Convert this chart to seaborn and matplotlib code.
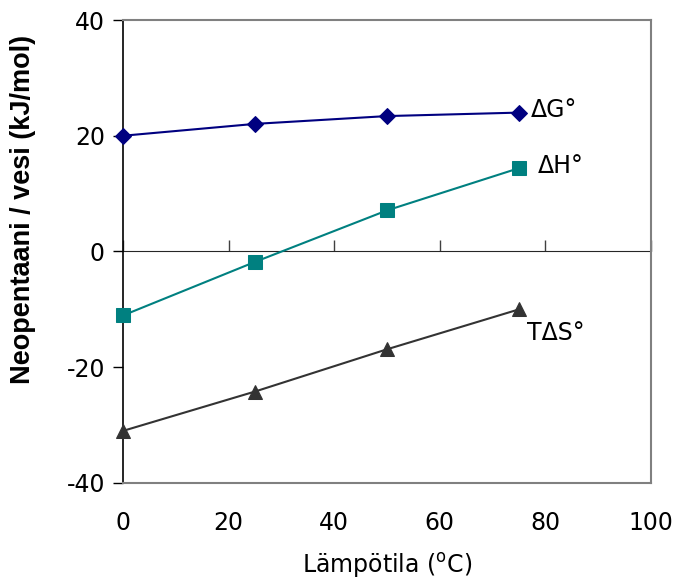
import matplotlib
matplotlib.use("Agg")
import matplotlib.pyplot as plt
import seaborn as sns
import pandas as pd

# Temperature (°C) and thermodynamic quantities (kJ/mol)
temperature = [0, 25, 50, 75]
delta_g = [20.0, 22.05, 23.4, 24.0]
delta_h = [-11.05, -1.8, 7.1, 14.4]
t_delta_s = [-31.0, -24.2, -16.9, -10.0]
series_names = ["ΔG°", "ΔH°", "TΔS°"]

x_ticks = [0, 20, 40, 60, 80, 100]
y_ticks = [-40, -20, 0, 20, 40]

df = pd.DataFrame({
    "T": temperature * 3,
    "value": delta_g + delta_h + t_delta_s,
    "series": [s for s in series_names for _ in temperature],
})

sns.set_style("white")
plt.rcParams["font.family"] = ["DejaVu Sans"]
plt.rcParams["axes.unicode_minus"] = False
plt.rcParams["text.color"] = "black"
plt.rcParams["axes.labelcolor"] = "black"
plt.rcParams["xtick.color"] = "black"
plt.rcParams["ytick.color"] = "black"

fig = plt.figure(figsize=(6.75, 5.85), dpi=100)
ax = fig.add_axes([0.1822, 0.1744, 0.7822, 0.7914])

colors = {"ΔG°": "#000080", "ΔH°": "#008080", "TΔS°": "#333333"}
markers = {"ΔG°": "D", "ΔH°": "s", "TΔS°": "^"}
sizes = {"ΔG°": 8.5, "ΔH°": 9.5, "TΔS°": 10}

for name in series_names:
    sub = df[df["series"] == name]
    sns.lineplot(data=sub, x="T", y="value", ax=ax, color=colors[name],
                 marker=markers[name], markersize=sizes[name],
                 markeredgecolor=colors[name], linewidth=1.5, legend=False,
                 clip_on=False, zorder=3)

ax.set_xlim(0, 100)
ax.set_ylim(-40, 40)
ax.set_xticks(x_ticks)
ax.set_yticks(y_ticks)
ax.tick_params(axis="x", length=0, pad=20, labelsize=17, labelcolor="black")
ax.tick_params(axis="y", direction="out", length=7, width=1, color="black",
               labelsize=17, labelcolor="black", pad=6, left=True)

for side in ["top", "right", "bottom"]:
    ax.spines[side].set_color("#808080")
    ax.spines[side].set_linewidth(1.5)
ax.spines["left"].set_color("black")
ax.spines["left"].set_linewidth(1.2)

# Horizontal zero axis with inward (upward) ticks
zero_axis = ax.secondary_xaxis(0.5)
zero_axis.set_xticks(x_ticks)
zero_axis.tick_params(direction="in", length=8, width=1, color="#404040",
                      labelbottom=False, labeltop=False, top=False, bottom=True)
zero_axis.spines["bottom"].set_color("black")
zero_axis.spines["bottom"].set_linewidth(1.2)

ax.set_xlabel("Lämpötila ($^{\\mathrm{o}}$C)", fontsize=17, labelpad=12,
              color="black")
ax.set_ylabel("Neopentaani / vesi (kJ/mol)", fontsize=19.5, fontweight="bold",
              family=["Liberation Sans", "DejaVu Sans"], color="black")
ax.yaxis.set_label_coords(-0.165, 0.59)

# Series labels at the right end of each line
label_pos = {"ΔG°": (77.2, 24.5), "ΔH°": (78.5, 14.7), "TΔS°": (76.6, -14.0)}
for name in series_names:
    x, y = label_pos[name]
    ax.text(x, y, name, fontsize=17, va="center", ha="left", color="black")

fig.savefig("out.png", dpi=100)
